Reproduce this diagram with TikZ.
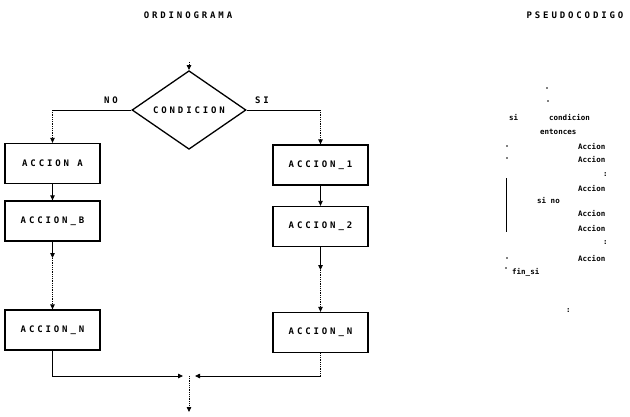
\documentclass[tikz,border=0pt]{standalone}
\usepackage{fontspec}
\newfontfamily\boxfont[LetterSpace=32]{DejaVu Sans Mono}
\newfontfamily\codefont{DejaVu Sans Mono}
\usetikzlibrary{arrows.meta,shapes.geometric}
\tikzset{
  actbox/.style={draw,line width=1.3pt,minimum width=95pt,minimum height=40pt,inner sep=0pt,font=\boxfont\bfseries\fontsize{9}{10}\selectfont},
  cond/.style={draw,diamond,line width=1.3pt,minimum width=114pt,minimum height=56pt,inner sep=0pt,font=\boxfont\bfseries\fontsize{9}{10}\selectfont},
  lbl/.style={inner sep=0pt,font=\boxfont\bfseries\fontsize{9}{10}\selectfont},
  code/.style={inner sep=0pt,anchor=base west,font=\codefont\bfseries\fontsize{7.5}{8}\selectfont},
  conn/.style={line width=0.8pt},
  dotconn/.style={line width=0.8pt,densely dotted},
  arr/.style={-{Triangle[length=5pt,width=4.5pt]}},
  dotmark/.style={fill,circle,inner sep=0pt,minimum size=1.6pt}
}
\begin{document}
\begin{tikzpicture}[x=1pt,y=-1pt]
\useasboundingbox (0,0) rectangle (630,416);
% titles
\node[lbl] (t1) at (188,15) {ORDINOGRAMA};
\node[lbl] (t2) at (575,15) {PSEUDOCODIGO};
% flowchart
\node[cond] (d) at (189,110) {CONDICION};
\node[lbl] (no) at (111,100) {NO};
\node[lbl] (si) at (262,100) {SI};
\node[actbox] (a) at (52.5,163.5) {ACCION A};
\node[actbox] (b) at (52.5,221) {ACCION\_B};
\node[actbox] (n) at (52.5,330) {ACCION\_N};
\node[actbox] (r1) at (320.5,165) {ACCION\_1};
\node[actbox] (r2) at (320.5,226.5) {ACCION\_2};
\node[actbox] (rn) at (320.5,332.5) {ACCION\_N};
\coordinate (in) at (189,62);
\coordinate (nc) at (a.north |- d.west);
\coordinate (sc) at (r1.north |- d.east);
\coordinate (b1) at (52.5,258);
\coordinate (r21) at (320.5,270);
\coordinate (m) at (189,376);
\coordinate (out) at (189,412);
\draw[dotconn,arr] (in) -- (d.north);
\draw[conn] (d.west) -- (nc);
\draw[dotconn,arr] (nc) -- (a.north);
\draw[conn] (d.east) -- (sc);
\draw[dotconn,arr] (sc) -- (r1.north);
\draw[conn,arr] (a.south) -- (b.north);
\draw[conn,arr] (b.south) -- (b1);
\draw[dotconn,arr] (b1) -- (n.north);
\draw[conn,arr] (r1.south) -- (r2.north);
\draw[conn,arr] (r2.south) -- (r21);
\draw[dotconn,arr] (r21) -- (rn.north);
\draw[conn,arr,shorten >=6pt] (n.south) |- (m);
\draw[dotconn] (rn.south) -- (rn.south |- m);
\draw[conn,arr,shorten >=6pt] (rn.south |- m) -- (m);
\draw[dotconn,arr] (m) -- (out);
% pseudocode
\node[dotmark] (p1) at (547,88) {};
\node[dotmark] (p2) at (548,101) {};
\node[code] (c1a) at (509,120) {si};
\node[code] (c1) at (549,120) {condicion};
\node[code] (c2) at (540,134) {entonces};
\node[code] (c3) at (578,149) {Accion};
\node[code] (c4) at (578,162) {Accion};
\node[code] (c5) at (603,176) {:};
\node[code] (c6) at (578,191) {Accion};
\node[code] (c7) at (537,203) {si no};
\node[code] (c8) at (578,216) {Accion};
\node[code] (c9) at (578,231) {Accion};
\node[code] (c10) at (603,244) {:};
\node[code] (c11) at (578,261) {Accion};
\node[code] (c12) at (512,274) {fin\_si};
\node[code] (c13) at (566,312) {:};
\node[dotmark] (q1) at (507,146) {};
\node[dotmark] (q2) at (507,158) {};
\node[dotmark] (q3) at (507,258) {};
\node[dotmark] (q4) at (506,268) {};
\coordinate (vt) at (506,178);
\coordinate (vb) at (506,232);
\draw[conn] (vt) -- (vb);
\end{tikzpicture}
\end{document}
